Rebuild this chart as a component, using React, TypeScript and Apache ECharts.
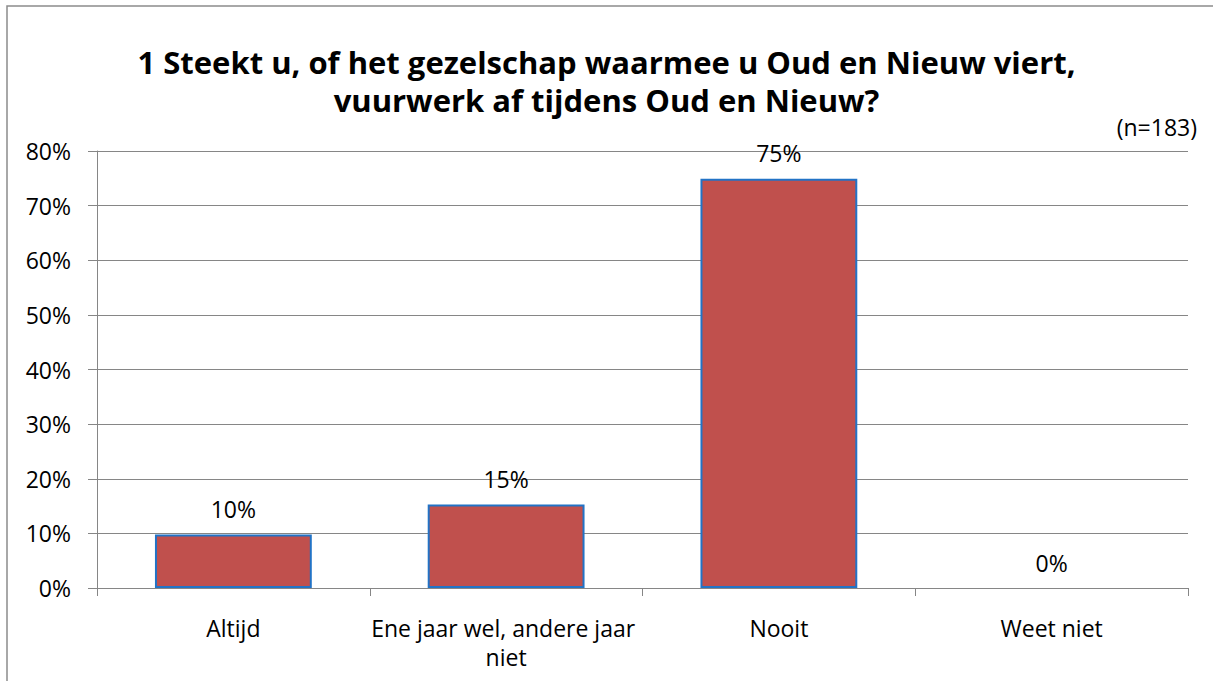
import React, { useEffect, useRef } from "react";
import * as echarts from "echarts";

const titleText = "1 Steekt u, of het gezelschap waarmee u Oud en Nieuw viert,\nvuurwerk af tijdens Oud en Nieuw?";
const sampleNote = "(n=183)";
const categories = ["Altijd", "Ene jaar wel, andere jaar niet", "Nooit", "Weet niet"];
const values = [9.8, 15.3, 74.9, 0];
const yTicks = [0, 10, 20, 30, 40, 50, 60, 70, 80];

const FONT = "'Open Sans', 'Noto Sans', sans-serif";

export default function App() {
  const ref = useRef<HTMLDivElement>(null);
  useEffect(() => {
    document.body.style.margin = "0";
    const chart = echarts.init(ref.current!, null, { renderer: "svg" });
    chart.setOption({
      animation: false,
      backgroundColor: "#ffffff",
      title: {
        text: titleText,
        left: "center",
        top: 38,
        textStyle: {
          fontFamily: FONT,
          fontWeight: "bold",
          fontSize: 31,
          lineHeight: 38,
          color: "#000000",
        },
      },
      graphic: [
        {
          type: "rect",
          shape: { x: 7, y: 6, width: 1230, height: 700 },
          style: { fill: "none", stroke: "#8c8c8c", lineWidth: 1.5 },
          silent: true,
        },
        {
          type: "text",
          right: 16,
          top: 115,
          style: { text: sampleNote, fontFamily: FONT, fontSize: 23, fill: "#000000" },
        },
      ],
      grid: { left: 97, right: 25, top: 151, bottom: 93, containLabel: false },
      xAxis: {
        type: "category",
        data: categories,
        axisLine: { show: true, lineStyle: { color: "#868686", width: 1 } },
        axisTick: { show: true, length: 8, alignWithLabel: false, lineStyle: { color: "#868686" } },
        axisLabel: {
          interval: 0,
          margin: 25,
          width: 290,
          overflow: "break",
          lineHeight: 29,
          fontFamily: FONT,
          fontSize: 23,
          color: "#000000",
        },
      },
      yAxis: {
        type: "value",
        min: 0,
        max: 80,
        interval: 10,
        axisLine: { show: true, lineStyle: { color: "#868686", width: 1 } },
        axisTick: { show: true, length: 9, lineStyle: { color: "#868686" } },
        splitLine: { show: true, lineStyle: { color: "#868686", width: 1 } },
        axisLabel: {
          margin: 26,
          fontFamily: FONT,
          fontSize: 23,
          color: "#000000",
          formatter: (v: number) => (yTicks.includes(v) ? `${v}%` : ""),
        },
      },
      series: [
        {
          type: "bar",
          data: values.map((v) => (v === 0 ? { value: v, itemStyle: { borderWidth: 0 } } : v)),
          barWidth: "57.5%",
          itemStyle: { color: "#C0504D", borderColor: "#2273C6", borderWidth: 2 },
          label: {
            show: true,
            position: "top",
            distance: 14,
            fontFamily: FONT,
            fontSize: 23,
            color: "#000000",
            formatter: (p: any) => `${Math.round(p.value)}%`,
          },
        },
      ],
    });
    return () => chart.dispose();
  }, []);
  return <div ref={ref} style={{ width: 1213, height: 681 }} />;
}
